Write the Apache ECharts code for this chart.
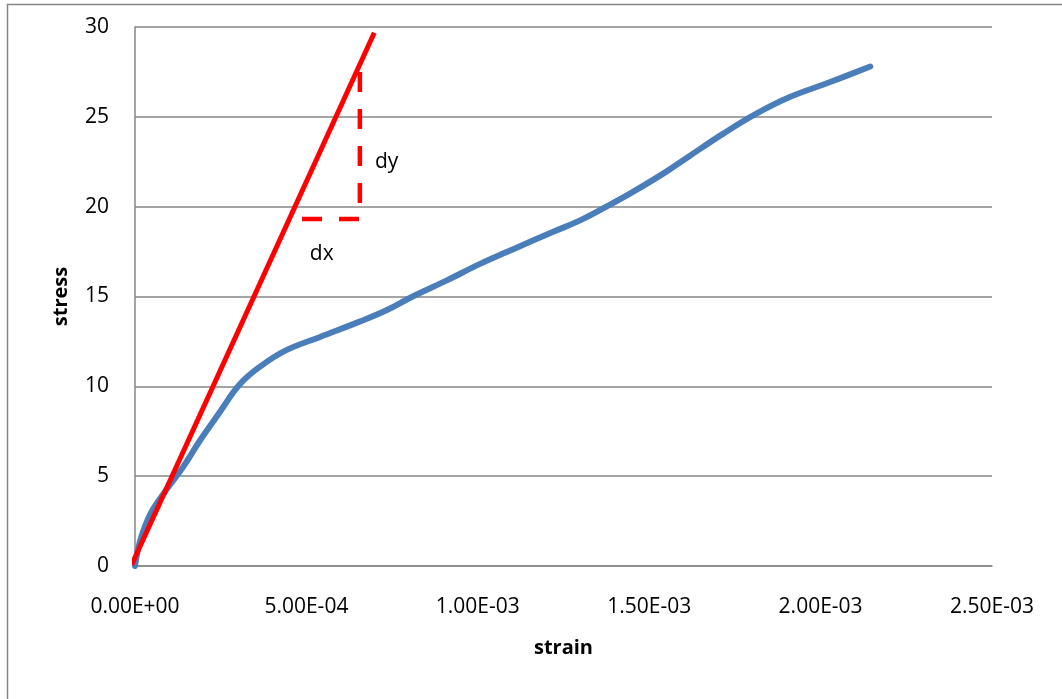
<!DOCTYPE html>
<html>
<head>
<meta charset="utf-8">
<title>stress vs strain</title>
<script src="https://cdn.jsdelivr.net/npm/echarts@6/dist/echarts.min.js"></script>
<style>
    html, body { margin: 0; padding: 0; background: #fff; }
    #chart { width: 1062px; height: 699px; }
</style>
</head>
<body>
<div id="chart"></div>
<script>
    // measured stress-strain curve
    var strain = [0, 1.5e-5, 4.5e-5, 9e-5, 1.4e-4, 1.9e-4, 2.45e-4, 3.05e-4, 3.65e-4, 4.4e-4,
        5.4e-4, 6.55e-4, 7.35e-4, 8.1e-4, 9.1e-4, 1.005e-3, 1.105e-3, 1.22e-3, 1.3e-3, 1.375e-3,
        1.455e-3, 1.55e-3, 1.62e-3, 1.715e-3, 1.81e-3, 1.91e-3, 2.03e-3, 2.145e-3];
    var stress = [0, 1.4, 2.9, 4.2, 5.5, 7.0, 8.5, 10.1, 11.1, 12.0,
        12.75, 13.6, 14.25, 15.0, 15.9, 16.8, 17.65, 18.6, 19.25, 20.0,
        20.85, 21.95, 22.85, 24.05, 25.15, 26.1, 26.95, 27.8];

    // tangent (elastic modulus) line
    var tangentStrain = [-1e-5, 6.98e-4];
    var tangentStress = [0.06, 29.68];

    // dy / dx triangle
    var triStrain = [6.56e-4, 6.56e-4, 4.84e-4];
    var triStress = [27.5, 19.31, 19.31];

    var labelNames = ['dy', 'dx'];
    var labelStrain = [7.0e-4, 5.1e-4];
    var labelStress = [22.48, 17.36];

    var xTickLabels = ['0.00E+00', '5.00E-04', '1.00E-03', '1.50E-03', '2.00E-03', '2.50E-03'];

    function pairs(xs, ys) {
        return xs.map(function (x, i) { return [x, ys[i]]; });
    }

    var font = '"Open Sans", sans-serif';
    var gray = '#868686';

    var chart = echarts.init(document.getElementById('chart'));
    chart.setOption({
        animation: false,
        backgroundColor: '#fff',
        grid: {
            left: 135,
            right: 70,
            top: 27,
            bottom: 133
        },
        xAxis: {
            type: 'value',
            min: 0,
            max: 0.0025,
            interval: 0.0005,
            name: 'strain',
            nameLocation: 'middle',
            nameGap: 72,
            nameTextStyle: { fontFamily: font, fontSize: 20, fontWeight: 'bold', color: '#000' },
            axisLine: { show: true, lineStyle: { color: gray, width: 1.5 } },
            axisTick: { show: false },
            splitLine: { show: false },
            axisLabel: {
                margin: 31,
                fontFamily: font,
                fontSize: 21,
                color: '#000',
                formatter: function (v) {
                    return xTickLabels[Math.round(v / 0.0005)];
                }
            }
        },
        yAxis: {
            type: 'value',
            min: 0,
            max: 30,
            interval: 5,
            name: 'stress',
            nameLocation: 'middle',
            nameGap: 64,
            nameTextStyle: { fontFamily: font, fontSize: 20, fontWeight: 'bold', color: '#000' },
            axisLine: { show: true, lineStyle: { color: gray, width: 1.5 } },
            axisTick: { show: false },
            splitLine: { show: true, lineStyle: { color: gray, width: 1.5 } },
            axisLabel: {
                margin: 26,
                fontFamily: font,
                fontSize: 21,
                color: '#000',
                padding: [6, 0, 0, 0]
            }
        },
        series: [
            {
                name: 'curve',
                type: 'line',
                data: pairs(strain, stress),
                smooth: 0.4,
                showSymbol: false,
                lineStyle: { color: '#4a7ebb', width: 6, cap: 'round', join: 'round' },
                z: 2
            },
            {
                name: 'tangent',
                type: 'line',
                data: pairs(tangentStrain, tangentStress),
                clip: false,
                showSymbol: false,
                lineStyle: { color: '#ff0000', width: 5 },
                z: 3
            },
            {
                name: 'triangle',
                type: 'line',
                data: pairs(triStrain, triStress),
                clip: false,
                showSymbol: false,
                lineStyle: { color: '#ff0000', width: 4.5, type: [20, 17] },
                z: 3
            }
        ]
    });

    // outer frame and dy/dx annotations, positioned through the axes
    var texts = labelNames.map(function (n, i) {
        var p = chart.convertToPixel({ gridIndex: 0 }, [labelStrain[i], labelStress[i]]);
        return {
            type: 'text',
            x: p[0],
            y: p[1],
            style: {
                text: n,
                fill: '#000',
                font: '21px ' + font,
                textAlign: 'left',
                textVerticalAlign: 'middle'
            },
            z: 10,
            silent: true
        };
    });
    chart.setOption({
        graphic: [{
            type: 'rect',
            shape: { x: 7.5, y: 4.5, width: 1100, height: 800 },
            style: { fill: 'none', stroke: gray, lineWidth: 1.5 },
            silent: true
        }].concat(texts)
    });
</script>
</body>
</html>
